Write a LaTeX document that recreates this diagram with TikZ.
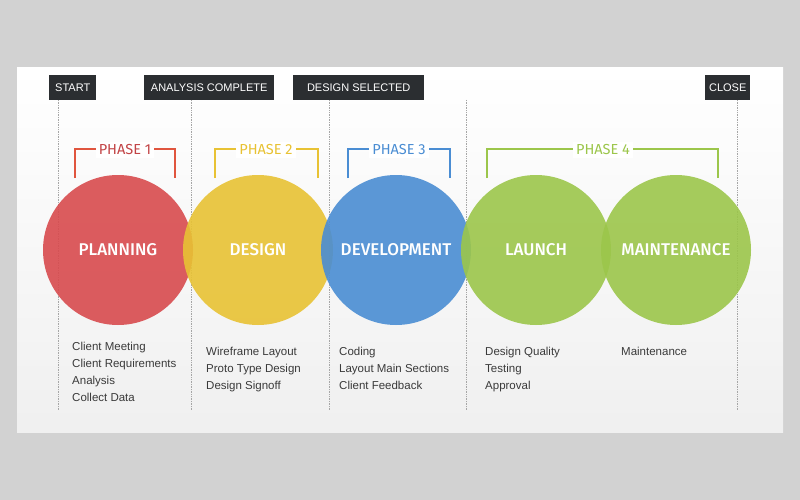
\documentclass[tikz,border=0pt]{standalone}
\usepackage{fontspec}
\setmainfont{Liberation Sans}
\newfontfamily\headfont{Fira Sans}
\newfontfamily\headfontm{Fira Sans Medium}
\definecolor{cred}{HTML}{D84B4E}
\definecolor{cyel}{HTML}{E8C234}
\definecolor{cblu}{HTML}{4A8DD3}
\definecolor{cgrn}{HTML}{9CC64B}
\definecolor{boxc}{HTML}{2B2E31}
\definecolor{txt}{HTML}{3A3A3A}
\begin{document}
\begin{tikzpicture}[x=1pt,y=-1pt,
  circ/.style={circle,minimum size=150pt,inner sep=0pt,fill opacity=0.9,text opacity=1,text=white,font=\headfontm\fontsize{17}{17}\selectfont},
  tag/.style={fill=boxc,text=white,font=\fontsize{11}{11}\selectfont,inner sep=0pt,minimum height=25pt,anchor=north west},
  dots/.style={gray!70,densely dotted,line width=0.7pt},
  br/.style={line width=1.2pt},
  ph/.style={font=\headfont\fontsize{14.5}{14}\selectfont,fill=white,inner sep=3pt},
  lst/.style={font=\fontsize{11.5}{17}\selectfont,text=txt,align=left,anchor=north west,inner sep=0pt}]
\fill[gray!35] (0,0) rectangle (800,500);
\shade[top color=white,bottom color=gray!12] (17,68) rectangle (783,432);
\useasboundingbox (0,0) rectangle (800,500);
\foreach \x in {58,191,329,466,737} \draw[dots] (\x,100) -- (\x,410);
\node[tag,minimum width=47pt] (t1) at (49,75) {START};
\node[tag,minimum width=130pt] (t2) at (144,75) {ANALYSIS COMPLETE};
\node[tag,minimum width=131pt] (t3) at (293,75) {DESIGN SELECTED};
\node[tag,minimum width=45pt] (t4) at (705,75) {CLOSE};
% brackets
\draw[br,cred!80!orange] (75,178) |- (175,149) -- (175,178);
\node[ph,text=cred!90!black] (p1) at (125,150) {PHASE 1};
\draw[br,cyel] (215,178) |- (318,149) -- (318,178);
\node[ph,text=cyel] (p2) at (266,150) {PHASE 2};
\draw[br,cblu] (348,178) |- (450,149) -- (450,178);
\node[ph,text=cblu] (p3) at (399,150) {PHASE 3};
\draw[br,cgrn] (487,178) |- (718,149) -- (718,178);
\node[ph,text=cgrn] (p4) at (603,150) {PHASE 4};
% circles
\node[circ,fill=cred] (c1) at (118,250) {PLANNING};
\node[circ,fill=cyel] (c2) at (258,250) {DESIGN};
\node[circ,fill=cblu] (c3) at (396,250) {DEVELOPMENT};
\node[circ,fill=cgrn] (c4) at (536,250) {LAUNCH};
\node[circ,fill=cgrn] (c5) at (676,250) {MAINTENANCE};
% lists
\node[lst] (l1) at (72,342) {Client Meeting\\Client Requirements\\Analysis\\Collect Data};
\node[lst] (l2) at (206,347) {Wireframe Layout\\Proto Type Design\\Design Signoff};
\node[lst] (l3) at (339,347) {Coding\\Layout Main Sections\\Client Feedback};
\node[lst] (l4) at (485,347) {Design Quality\\Testing\\Approval};
\node[lst] (l5) at (621,347) {Maintenance};
\end{tikzpicture}
\end{document}
